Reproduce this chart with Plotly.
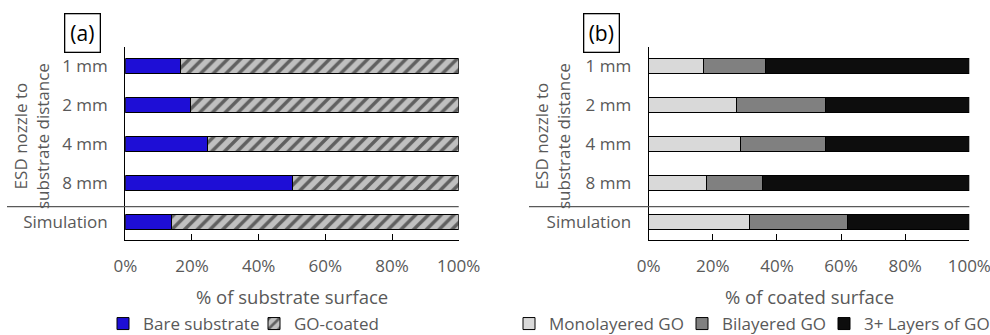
import plotly.graph_objects as go

# ---- data ----
categories = ["1 mm", "2 mm", "4 mm", "8 mm", "Simulation"]
bare_substrate = [0.167, 0.196, 0.247, 0.500, 0.140]
go_coated = [1 - v for v in bare_substrate]

monolayered = [0.171, 0.274, 0.285, 0.179, 0.314]
bilayered = [0.192, 0.278, 0.267, 0.177, 0.307]
three_plus = [1 - a - b for a, b in zip(monolayered, bilayered)]

x_ticks = [0, 0.2, 0.4, 0.6, 0.8, 1.0]
x_tick_labels = ["0%", "20%", "40%", "60%", "80%", "100%"]

W, H = 990, 335
MB = 40  # bottom margin (legend area)
HP = H - MB
FONT = "Open Sans"
GREY = "#595959"


def px(x):
    return x / W


def py(y):
    return (HP - y) / HP


fig = go.Figure()

line = dict(color="black", width=1)
fig.add_trace(go.Bar(y=categories, x=bare_substrate, orientation="h", name="Bare substrate",
                     marker=dict(color="#1E0ED6", line=line), xaxis="x", yaxis="y", legend="legend"))
fig.add_trace(go.Bar(y=categories, x=go_coated, orientation="h", name="GO-coated",
                     marker=dict(color="#C0C0C0", line=line,
                                 pattern=dict(shape="/", fgcolor="black", bgcolor="#C0C0C0",
                                              size=9, solidity=0.38)),
                     xaxis="x", yaxis="y", legend="legend2"))

fig.add_trace(go.Bar(y=categories, x=monolayered, orientation="h", name="Monolayered GO",
                     marker=dict(color="#D9D9D9", line=line), xaxis="x2", yaxis="y2", legend="legend3"))
fig.add_trace(go.Bar(y=categories, x=bilayered, orientation="h", name="Bilayered GO",
                     marker=dict(color="#808080", line=line), xaxis="x2", yaxis="y2", legend="legend4"))
fig.add_trace(go.Bar(y=categories, x=three_plus, orientation="h", name="3+ Layers of GO",
                     marker=dict(color="#0D0D0D", line=line), xaxis="x2", yaxis="y2", legend="legend5"))

ydom = [py(240), py(47)]
yrange = [4.46, -0.49]

xcommon = dict(range=[0, 1], tickvals=x_ticks, ticktext=x_tick_labels, showline=True,
               linecolor="black", linewidth=1.3, ticks="inside", ticklen=6, tickcolor="black",
               tickwidth=1.3, showgrid=False, zeroline=False, automargin=False,
               tickfont=dict(family=FONT, size=17, color=GREY), ticklabelstandoff=10,
               ticklabeloverflow="allow", fixedrange=True)
ycommon = dict(type="category", categoryorder="array", categoryarray=categories, range=yrange,
               domain=ydom, showline=True, linecolor="black", linewidth=1.3, ticks="",
               showgrid=False, zeroline=False, automargin=False,
               tickfont=dict(family=FONT, size=17, color=GREY), ticklabelstandoff=13,
               ticklabeloverflow="allow", fixedrange=True)

legend_common = dict(orientation="h", xref="container", yref="container", xanchor="left",
                     yanchor="middle", y=1 - 324 / H, bgcolor="rgba(0,0,0,0)",
                     traceorder="normal", itemclick=False, itemdoubleclick=False,
                     font=dict(family=FONT, size=17, color=GREY))

# legend swatch starts (px) in the reference
legend_sq = {"legend": 122, "legend2": 273, "legend3": 528, "legend4": 701, "legend5": 843}
legends = {k: dict(x=px(v - 19), **legend_common) for k, v in legend_sq.items()}

fig.update_layout(
    width=W, height=H, margin=dict(l=0, r=0, t=0, b=MB, autoexpand=False),
    paper_bgcolor="white", plot_bgcolor="rgba(0,0,0,0)",
    barmode="stack", bargap=0.615,
    font=dict(family=FONT, color=GREY),
    xaxis=dict(domain=[px(125.3), px(458.7)], anchor="y", **xcommon),
    yaxis=dict(anchor="x", **ycommon),
    xaxis2=dict(domain=[px(648.7), px(969.3)], anchor="y2", **xcommon),
    yaxis2=dict(anchor="x2", **ycommon),
    showlegend=True,
    **legends,
)

annotations = []
# axis titles
annotations.append(dict(text="% of substrate surface", x=px(292), y=py(297), xref="paper", yref="paper",
                        xanchor="center", yanchor="middle",
                        showarrow=False, font=dict(family=FONT, size=18.5, color=GREY)))
annotations.append(dict(text="% of coated surface", x=px(809), y=py(297), xref="paper", yref="paper",
                        xanchor="center", yanchor="middle",
                        showarrow=False, font=dict(family=FONT, size=18.5, color=GREY)))
# y titles
for cx in (32, 553):
    annotations.append(dict(text="ESD nozzle to<br>substrate distance", x=px(cx), y=py(136),
                            xref="paper", yref="paper", showarrow=False, textangle=-90,
                            xanchor="center", yanchor="middle",
                            font=dict(family=FONT, size=17, color=GREY)))
# panel labels
for label, cx in (("(a)", 82), ("(b)", 601)):
    annotations.append(dict(text=label, x=px(cx), y=py(32.5), xref="paper", yref="paper",
                            xanchor="center", yanchor="middle",
                            showarrow=False, font=dict(family=FONT, size=21, color="black"),
                            bordercolor="black", borderwidth=1.3, borderpad=3, width=28, height=31))
fig.update_layout(annotations=annotations)

# separator lines
shapes = [
    dict(type="line", xref="paper", yref="paper", x0=px(7), x1=px(458.7), y0=py(206.7), y1=py(206.7),
         line=dict(color=GREY, width=1.3)),
    dict(type="line", xref="paper", yref="paper", x0=px(529), x1=px(969.3), y0=py(206.7), y1=py(206.7),
         line=dict(color=GREY, width=1.3)),
]
fig.update_layout(shapes=shapes)

fig.write_html("out.html", config={"displayModeBar": False},
               post_script="document.body.style.margin='0px';")
